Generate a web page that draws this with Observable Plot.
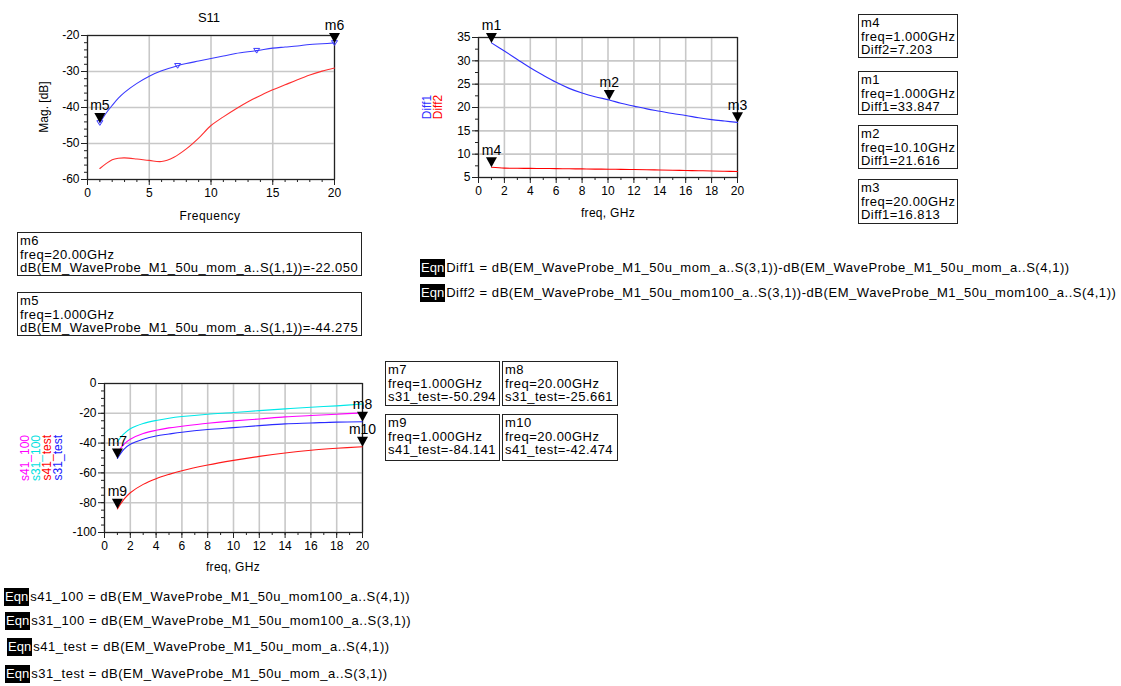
<!DOCTYPE html>
<html><head><meta charset="utf-8">
<script src="https://cdn.jsdelivr.net/npm/d3@7"></script>
<script src="https://cdn.jsdelivr.net/npm/@observablehq/plot@0.6"></script>
<style>
body{margin:0;background:#fff;font-family:"Liberation Sans",Arial,sans-serif;}
#root{position:relative;width:1121px;height:686px;overflow:hidden;background:#fff;}
.box{position:absolute;border:1px solid #222;font-size:13px;line-height:13.5px;padding:1px 2px 0 2px;white-space:nowrap;color:#000;box-sizing:border-box;letter-spacing:0.45px;}
.eqn{position:absolute;font-size:13px;white-space:nowrap;transform:translateY(-50%);letter-spacing:0.55px;line-height:16px;}
.eqn b{display:inline-block;background:#000;color:#fff;font-weight:normal;padding:1px 1px;margin-right:1px;letter-spacing:0;}
.chart{position:absolute;}
</style></head><body><div id="root"></div>
<script>
// ---------------- data ----------------
// S11 chart
const s11MomFreq = [1,1.5,2,2.5,3,4,5,6,7.3,8,9,10,11,12,13.7,15,16,17,18,19,20];
const s11Mom     = [-44.275,-41.6,-39.4,-37.4,-35.8,-33.3,-31.3,-29.8,-28.4,-27.8,-27.1,-26.4,-25.7,-25.0,-24.2,-23.5,-23.2,-22.9,-22.5,-22.3,-22.05];
const s11SymFreq = [1,7.3,13.7,20];
const s11SymVal  = [-44.275,-28.4,-24.2,-22.05];
const s11Mom100Freq = [1,1.5,2,2.5,3,4,5,6,7,8,9,10,11,12,13,14,15,16,17,18,19,20];
const s11Mom100     = [-56.95,-55.6,-54.5,-54.1,-54.0,-54.3,-54.7,-55.0,-53.8,-51.5,-48.5,-45.0,-42.6,-40.4,-38.4,-36.7,-35.1,-33.7,-32.3,-31.0,-29.9,-29.05];
const s11MarkerNames = ["m5","m6"];
const s11MarkerFreq  = [1,20];
const s11MarkerVal   = [-44.275,-22.050];

// Diff chart
const diffFreq = [1,2,3,4,5,6,7,8,9,10.1,11,12,13,14,15,16,17,18,19,20];
const diff1    = [33.847,32.1,30.3,28.5,26.9,25.4,24.1,23.1,22.3,21.616,20.9,20.3,19.7,19.2,18.7,18.3,17.8,17.4,17.1,16.813];
const diff2    = [7.203,7.0,6.98,6.95,6.93,6.9,6.87,6.84,6.8,6.77,6.74,6.71,6.67,6.6,6.55,6.5,6.46,6.4,6.33,6.28];
const diffMarkerNames = ["m1","m2","m3","m4"];
const diffMarkerFreq  = [1,10.1,20,1];
const diffMarkerVal   = [33.847,21.616,16.813,7.203];

// Transmission chart
const sFreq    = [1,1.5,2,3,4,5,6,8,10,12,14,16,18,20];
const s41_100  = [-46.4,-40.8,-37.4,-33.6,-31.4,-29.8,-28.7,-26.7,-25.1,-23.8,-22.4,-21.5,-20.6,-19.7];
const s31_100  = [-39.0,-33.8,-30.4,-26.9,-24.8,-23.3,-22.2,-20.6,-19.5,-18.2,-17.0,-15.9,-15.0,-13.8];
const s41_test = [-84.141,-77.8,-73.3,-67.7,-63.9,-61.0,-58.5,-54.7,-51.6,-48.9,-46.6,-44.8,-43.5,-42.474];
const s31_test = [-50.294,-44.2,-40.8,-37.4,-35.2,-33.9,-32.7,-30.9,-29.6,-28.3,-27.1,-26.5,-25.9,-25.661];
const sMarkerNames = ["m7","m8","m9","m10"];
const sMarkerFreq  = [1,20,1,20];
const sMarkerVal   = [-50.294,-25.661,-84.141,-42.474];

// ---------------- helpers ----------------
const FONT = '"Liberation Sans", Arial, sans-serif';
const root = document.getElementById("root");
const rows = (xs, ys) => xs.map((x, i) => ({x, y: ys[i]}));
const downTri = {draw(c){ c.moveTo(0,0); c.lineTo(-5.5,-10); c.lineTo(5.5,-10); c.closePath(); }};
const smallTri = {draw(c){ c.moveTo(0,2.5); c.lineTo(-3,-2.2); c.lineTo(3,-2.2); c.closePath(); }};

function makeChart(cfg) {
  const marks = [
    Plot.gridX(cfg.xMajor, {stroke:"#c8c8c8", strokeOpacity:1, strokeWidth:1.6}),
    Plot.gridY(cfg.yMajor, {stroke:"#c8c8c8", strokeOpacity:1, strokeWidth:1.6}),
    Plot.axisX(cfg.xMinor, {tickSize:3, tickFormat:() => "", label:null, stroke:"#222"}),
    Plot.axisX(cfg.xMajor, {tickSize:6, tickPadding:3, tickFormat:d => String(d), label:null, stroke:"#222"}),
    Plot.axisY(cfg.yMinor, {tickSize:3, tickFormat:() => "", label:null, stroke:"#222"}),
    Plot.axisY(cfg.yMajor, {tickSize:6, tickPadding:2, tickFormat:d => String(d), label:null, stroke:"#222"}),
    Plot.frame({stroke:"#222", strokeWidth:1.2}),
  ];
  for (const s of cfg.series) {
    marks.push(Plot.line(rows(s.x, s.y), {x:"x", y:"y", stroke:s.color, strokeWidth:1.1, curve:"catmull-rom"}));
  }
  if (cfg.symbols) {
    marks.push(Plot.dot(rows(cfg.symbols.x, cfg.symbols.y), {x:"x", y:"y", symbol:smallTri, r:3, stroke:cfg.symbols.color, fill:"none", strokeWidth:1}));
  }
  const mk = cfg.markers.names.map((n, i) => ({name:n, x:cfg.markers.x[i], y:cfg.markers.y[i]}));
  marks.push(Plot.dot(mk, {x:"x", y:"y", symbol:downTri, r:5, fill:"#000", stroke:"none"}));
  marks.push(Plot.text(mk, {x:"x", y:"y", text:"name", dy:-17, fontSize:14, fill:"#000"}));
  const svg = Plot.plot({
    width: cfg.width, height: cfg.height,
    marginLeft: cfg.ml, marginRight: cfg.mr, marginTop: cfg.mt, marginBottom: cfg.mb,
    x: {domain: cfg.xDomain, label: null},
    y: {domain: cfg.yDomain, label: null},
    style: {fontFamily: FONT, fontSize: "12px", background: "transparent", overflow: "visible", color:"#000"},
    marks
  });
  svg.classList.add("chart");
  svg.style.left = cfg.left + "px";
  svg.style.top = cfg.top + "px";
  root.appendChild(svg);
}

// S11 chart: frame x 87..334, y 35..179
makeChart({
  left:0, top:0, width:360, height:230, ml:87, mr:26, mt:35, mb:51,
  xDomain:[0,20], yDomain:[-60,-20],
  xMajor:[0,5,10,15,20], xMinor:d3.range(0,21,1),
  yMajor:[-60,-50,-40,-30,-20], yMinor:d3.range(-60,-19,2),
  series:[
    {x:s11Mom100Freq, y:s11Mom100, color:"#ff3030"},
    {x:s11MomFreq, y:s11Mom, color:"#3a3aff"}
  ],
  symbols:{x:s11SymFreq, y:s11SymVal, color:"#3a3aff"},
  markers:{names:s11MarkerNames, x:s11MarkerFreq, y:s11MarkerVal}
});

// Diff chart: frame x 478..737, y 37..177
makeChart({
  left:400, top:0, width:360, height:230, ml:78, mr:23, mt:37, mb:53,
  xDomain:[0,20], yDomain:[5,35],
  xMajor:d3.range(0,21,2), xMinor:d3.range(0,21,1),
  yMajor:[5,10,15,20,25,30,35], yMinor:d3.range(5,36,2.5),
  series:[
    {x:diffFreq, y:diff2, color:"#ff0000"},
    {x:diffFreq, y:diff1, color:"#3030ff"}
  ],
  markers:{names:diffMarkerNames, x:diffMarkerFreq, y:diffMarkerVal}
});

// Transmission chart: frame x 104..362, y 383..532
makeChart({
  left:0, top:340, width:380, height:240, ml:104, mr:18, mt:43, mb:48,
  xDomain:[0,20], yDomain:[-100,0],
  xMajor:d3.range(0,21,2), xMinor:d3.range(0,21,1),
  yMajor:[-100,-80,-60,-40,-20,0], yMinor:d3.range(-100,1,5),
  series:[
    {x:sFreq, y:s41_test, color:"#ff1a1a"},
    {x:sFreq, y:s31_test, color:"#2a2aff"},
    {x:sFreq, y:s41_100, color:"#ff00ff"},
    {x:sFreq, y:s31_100, color:"#00e8e8"}
  ],
  markers:{names:sMarkerNames, x:sMarkerFreq, y:sMarkerVal}
});

// ---------------- overlay texts (titles, axis labels) ----------------
const ov = d3.select(root).append("svg")
  .attr("width", 1121).attr("height", 686)
  .style("position","absolute").style("left","0px").style("top","0px")
  .style("pointer-events","none").style("font-family", FONT);
function t(x, y, s, opts = {}) {
  const e = ov.append("text").text(s)
    .attr("font-size", opts.size || 12)
    .attr("fill", opts.color || "#000")
    .attr("text-anchor", opts.anchor || "middle")
    .attr("dominant-baseline", opts.baseline || "central");
  if (opts.rot) e.attr("transform", `translate(${x},${y}) rotate(-90)`);
  else e.attr("x", x).attr("y", y);
  if (opts.ls) e.attr("letter-spacing", opts.ls);
}
t(209, 17, "S11", {size:13});
t(44, 107, "Mag. [dB]", {rot:true, size:12});
t(210, 216, "Frequency", {size:12, ls:0.5});
t(427, 107, "Diff1", {rot:true, size:12, color:"#3030ff"});
t(438, 107, "Diff2", {rot:true, size:12, color:"#ff0000"});
t(608, 213, "freq, GHz", {size:12, ls:0.3});
t(233, 567, "freq, GHz", {size:12, ls:0.3});
t(25, 435, "s41_100", {rot:true, size:12, color:"#ff00ff", anchor:"end"});
t(36, 435, "s31_100", {rot:true, size:12, color:"#00e0e0", anchor:"end"});
t(47, 435, "s41_test", {rot:true, size:12, color:"#ff0000", anchor:"end"});
t(58, 435, "s31_test", {rot:true, size:12, color:"#2020ff", anchor:"end"});

// ---------------- marker readout boxes ----------------
const boxes = [
  {l:17, t:232, w:345, h:44, lines:["m6","freq=20.00GHz","dB(EM_WaveProbe_M1_50u_mom_a..S(1,1))=-22.050"]},
  {l:17, t:292, w:345, h:44, lines:["m5","freq=1.000GHz","dB(EM_WaveProbe_M1_50u_mom_a..S(1,1))=-44.275"]},
  {l:858, t:14, w:100, h:44, lines:["m4","freq=1.000GHz","Diff2=7.203"]},
  {l:858, t:71, w:100, h:44, lines:["m1","freq=1.000GHz","Diff1=33.847"]},
  {l:858, t:125, w:100, h:44, lines:["m2","freq=10.10GHz","Diff1=21.616"]},
  {l:858, t:179, w:100, h:45, lines:["m3","freq=20.00GHz","Diff1=16.813"]},
  {l:385, t:361, w:115, h:45, lines:["m7","freq=1.000GHz","s31_test=-50.294"]},
  {l:502, t:361, w:116, h:45, lines:["m8","freq=20.00GHz","s31_test=-25.661"]},
  {l:385, t:414, w:115, h:47, lines:["m9","freq=1.000GHz","s41_test=-84.141"]},
  {l:502, t:414, w:116, h:47, lines:["m10","freq=20.00GHz","s41_test=-42.474"]},
];
for (const b of boxes) {
  const d = document.createElement("div");
  d.className = "box";
  Object.assign(d.style, {left:b.l+"px", top:b.t+"px", width:b.w+"px", height:b.h+"px"});
  d.innerHTML = b.lines.join("<br>");
  root.appendChild(d);
}

// ---------------- equations ----------------
const eqns = [
  {x:420, y:268, s:"Diff1 = dB(EM_WaveProbe_M1_50u_mom_a..S(3,1))-dB(EM_WaveProbe_M1_50u_mom_a..S(4,1))"},
  {x:420, y:293, s:"Diff2 = dB(EM_WaveProbe_M1_50u_mom100_a..S(3,1))-dB(EM_WaveProbe_M1_50u_mom100_a..S(4,1))"},
  {x:4, y:597, s:"s41_100 = dB(EM_WaveProbe_M1_50u_mom100_a..S(4,1))"},
  {x:5, y:621, s:"s31_100 = dB(EM_WaveProbe_M1_50u_mom100_a..S(3,1))"},
  {x:7, y:647, s:"s41_test = dB(EM_WaveProbe_M1_50u_mom_a..S(4,1))"},
  {x:5, y:674, s:"s31_test = dB(EM_WaveProbe_M1_50u_mom_a..S(3,1))"},
];
for (const e of eqns) {
  const d = document.createElement("div");
  d.className = "eqn";
  d.style.left = e.x + "px";
  d.style.top = e.y + "px";
  const b = document.createElement("b");
  b.textContent = "Eqn";
  d.appendChild(b);
  d.appendChild(document.createTextNode(e.s));
  root.appendChild(d);
}
</script></body></html>
